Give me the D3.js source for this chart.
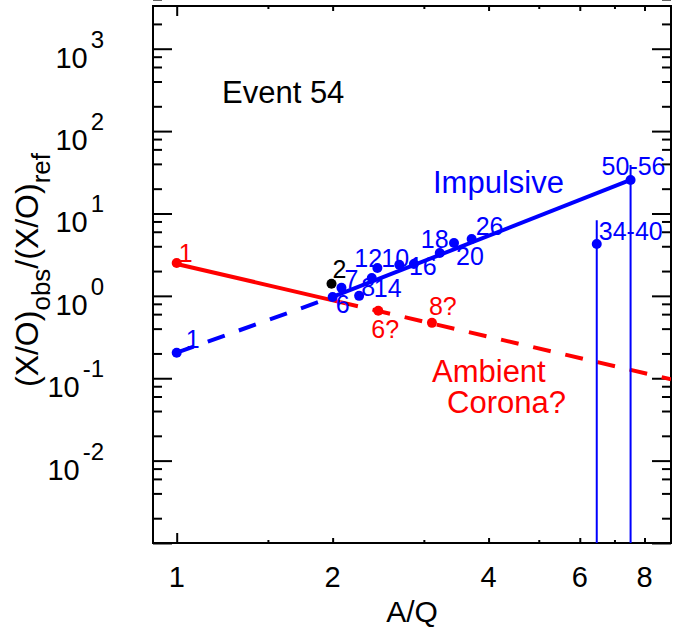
<!DOCTYPE html>
<html>
<head>
<meta charset="utf-8">
<script src="https://cdn.jsdelivr.net/npm/d3@7"></script>
<style>
  body { margin: 0; background: #fff; }
  svg text { font-family: "Liberation Sans", Arial, sans-serif; }
</style>
</head>
<body>
<div id="chart"></div>
<script>
// ---- data (A/Q on x, (X/O)obs/(X/O)ref on y) ----
var impulsiveZ     = ["1", "6", "7", "8", "14", "12", "10", "16", "18", "20", "26", "34-40", "50-56"];
var impulsiveAQ    = [1.0, 2.0, 2.08, 2.25, 2.38, 2.44, 2.69, 2.87, 3.22, 3.43, 3.71, 6.47, 7.52];
var impulsiveRatio = [0.204, 0.97, 1.25, 1.0, 1.65, 2.18, 2.38, 2.44, 3.32, 4.39, 4.91, 4.27, 25.5];

// upper / lower ends of the two error bars (lower ends fall below the plot)
var errZ  = ["34-40", "50-56"];
var errAQ = [6.47, 7.52];
var errHi = [8.3, 38.8];
var errLo = [1e-5, 1e-5];

var ambientZ     = ["1", "6?", "8?"];
var ambientAQ    = [1.0, 2.45, 3.11];
var ambientRatio = [2.5, 0.66, 0.47];

var heliumZ     = ["2"];
var heliumAQ    = [1.99];
var heliumRatio = [1.40];

// fitted power laws: solid where fitted, dashed where extrapolated
var impulsiveSolidAQ = [2.0, 7.52],  impulsiveSolidRatio = [0.97, 25.5];
var impulsiveDashAQ  = [1.0, 2.0],   impulsiveDashRatio  = [0.204, 0.97];
var ambientSolidAQ   = [1.0, 2.07],  ambientSolidRatio   = [2.44, 0.84];
var ambientDashAQ    = [2.07, 9.0],  ambientDashRatio    = [0.84, 0.097];

// ticks
var xLabelTicks = [1, 2, 4, 6, 8];
var xMajorTicks = [1];
var xMidTicks   = [2, 4, 6, 8];
var xMinorTicks = [1.5, 3, 5, 7];
var yExponents  = [-2, -1, 0, 1, 2, 3];
var yMajorTicks = [1e-3, 1e-2, 1e-1, 1, 10, 100, 1000];
var yMinorTicks = [];
[-3, -2, -1, 0, 1, 2, 3].forEach(function(k){
  [2, 4, 6, 8].forEach(function(m){ yMinorTicks.push(m * Math.pow(10, k)); });
});

// ---- layout ----
var W = 678, H = 628;
var margin = {top: 6, right: 7, bottom: 85, left: 153};
var w = W - margin.left - margin.right;
var h = H - margin.top - margin.bottom;
var BLUE = "#0000ff", RED = "#ff0000";

// label offsets (px from the point) kept apart from the data
var blueLabelPos = {
  "1": [9, -5], "6": [3, 16], "7": [3, 0], "8": [2, 0], "14": [2, 19], "12": [-23, -1],
  "10": [-18, 2], "16": [-5, 11], "18": [-19, -5], "20": [2, 22], "26": [4, -4],
  "34-40": [2, -4], "50-56": [-29, -5]
};
var redLabelPos = {"1": [2, -1], "6?": [-7, 27], "8?": [-3, -8]};
var blackLabelPos = {"2": [1, -6]};

var x = d3.scaleLog().domain([0.9, 9]).range([0, w]);
var y = d3.scaleLog().domain([1e-3, 3300]).range([h, 0]);

var svg = d3.select("#chart").append("svg")
  .attr("width", W).attr("height", H);

var g = svg.append("g")
  .attr("transform", "translate(" + margin.left + "," + margin.top + ")");

g.append("clipPath").attr("id", "plotclip")
  .append("rect").attr("width", w).attr("height", h);

// ---- axes: ticks on all four sides, pointing inward ----
function tickAxis(axisFn, scale, values, size, transform){
  var a = g.append("g").attr("transform", transform || null)
    .call(axisFn(scale).tickValues(values).tickSize(-size).tickFormat(""));
  a.select(".domain").remove();
  a.selectAll(".tick line").attr("stroke", "#000").attr("stroke-width", 2);
}
tickAxis(d3.axisBottom, x, xMajorTicks, 10, "translate(0," + h + ")");
tickAxis(d3.axisBottom, x, xMidTicks, 5, "translate(0," + h + ")");
tickAxis(d3.axisBottom, x, xMinorTicks, 3, "translate(0," + h + ")");
tickAxis(d3.axisTop, x, xMajorTicks, 10);
tickAxis(d3.axisTop, x, xMidTicks, 5);
tickAxis(d3.axisTop, x, xMinorTicks, 3);
tickAxis(d3.axisLeft, y, yMajorTicks, 19);
tickAxis(d3.axisLeft, y, yMinorTicks, 9);
tickAxis(d3.axisRight, y, yMajorTicks, 19, "translate(" + w + ",0)");
tickAxis(d3.axisRight, y, yMinorTicks, 9, "translate(" + w + ",0)");

g.append("rect").attr("width", w).attr("height", h)
  .attr("fill", "none").attr("stroke", "#000").attr("stroke-width", 2);

// x tick labels
g.selectAll(".xlab").data(xLabelTicks).enter().append("text")
  .attr("class", "xlab")
  .attr("x", function(d){ return x(d); })
  .attr("y", h + 44)
  .attr("text-anchor", "middle")
  .attr("font-size", 29)
  .text(function(d){ return d; });

// y tick labels 10^k
var ylab = g.selectAll(".ylab").data(yExponents).enter().append("text")
  .attr("class", "ylab")
  .attr("font-size", 29)
  .attr("transform", function(d){ return "translate(" + (-49) + "," + (y(Math.pow(10, d)) + 19) + ")"; });
ylab.append("tspan").attr("text-anchor", "end").text("10");
ylab.append("tspan").attr("font-size", 24).attr("dx", 3).attr("dy", -20)
  .text(function(d){ return d; });

// axis titles
g.append("text")
  .attr("x", w / 2).attr("y", h + 79)
  .attr("text-anchor", "middle").attr("font-size", 30)
  .text("A/Q");

var yt = svg.append("text")
  .attr("transform", "translate(38," + 270 + ") rotate(-90)")
  .attr("text-anchor", "middle").attr("font-size", 32);
yt.append("tspan").text("(X/O)");
yt.append("tspan").attr("font-size", 26).attr("dy", 12).text("obs");
yt.append("tspan").attr("dy", -12).text("/(X/O)");
yt.append("tspan").attr("font-size", 26).attr("dy", 12).text("ref");

// ---- fit lines ----
var line = d3.line()
  .x(function(d){ return x(d[0]); })
  .y(function(d){ return y(d[1]); });

var plot = g.append("g").attr("clip-path", "url(#plotclip)");

function fitLine(aq, ratio, color, dashed){
  plot.append("path")
    .datum(d3.zip(aq, ratio))
    .attr("d", line)
    .attr("fill", "none")
    .attr("stroke", color)
    .attr("stroke-width", 4)
    .attr("stroke-dasharray", dashed ? "18,15" : null);
}
fitLine(ambientSolidAQ, ambientSolidRatio, RED, false);
fitLine(ambientDashAQ, ambientDashRatio, RED, true);
fitLine(impulsiveDashAQ, impulsiveDashRatio, BLUE, true);
fitLine(impulsiveSolidAQ, impulsiveSolidRatio, BLUE, false);

// error bars on the heaviest groups
plot.selectAll(".err").data(d3.range(errZ.length)).enter().append("line")
  .attr("class", "err")
  .attr("x1", function(i){ return x(errAQ[i]); })
  .attr("x2", function(i){ return x(errAQ[i]); })
  .attr("y1", function(i){ return y(errHi[i]); })
  .attr("y2", function(i){ return y(errLo[i]); })
  .attr("stroke", BLUE).attr("stroke-width", 2);

// points + element labels
function series(zs, aq, ratio, color, labelPos){
  var pts = d3.range(zs.length).map(function(i){ return {z: zs[i], aq: aq[i], r: ratio[i]}; });
  plot.selectAll(null).data(pts).enter().append("circle")
    .attr("cx", function(d){ return x(d.aq); })
    .attr("cy", function(d){ return y(d.r); })
    .attr("r", 5)
    .attr("fill", color);
  g.selectAll(null).data(pts).enter().append("text")
    .attr("x", function(d){ return x(d.aq) + labelPos[d.z][0]; })
    .attr("y", function(d){ return y(d.r) + labelPos[d.z][1]; })
    .attr("font-size", 25)
    .attr("fill", color)
    .text(function(d){ return d.z; });
}
series(ambientZ, ambientAQ, ambientRatio, RED, redLabelPos);
series(impulsiveZ, impulsiveAQ, impulsiveRatio, BLUE, blueLabelPos);
series(heliumZ, heliumAQ, heliumRatio, "#000", blackLabelPos);

// leader from the blue H point to its label
plot.append("line")
  .attr("x1", x(impulsiveAQ[0])).attr("y1", y(impulsiveRatio[0]))
  .attr("x2", x(impulsiveAQ[0]) + 12).attr("y2", y(impulsiveRatio[0]) - 5)
  .attr("stroke", BLUE).attr("stroke-width", 2);

// ---- annotations ----
function note(txt, px, py, color){
  svg.append("text").attr("x", px).attr("y", py)
    .attr("font-size", 31).attr("fill", color).text(txt);
}
note("Event 54", 222, 103, "#000");
note("Impulsive", 433, 193, BLUE);
note("Ambient", 432, 382, RED);
note("Corona?", 447, 413, RED);
</script>
</body>
</html>
